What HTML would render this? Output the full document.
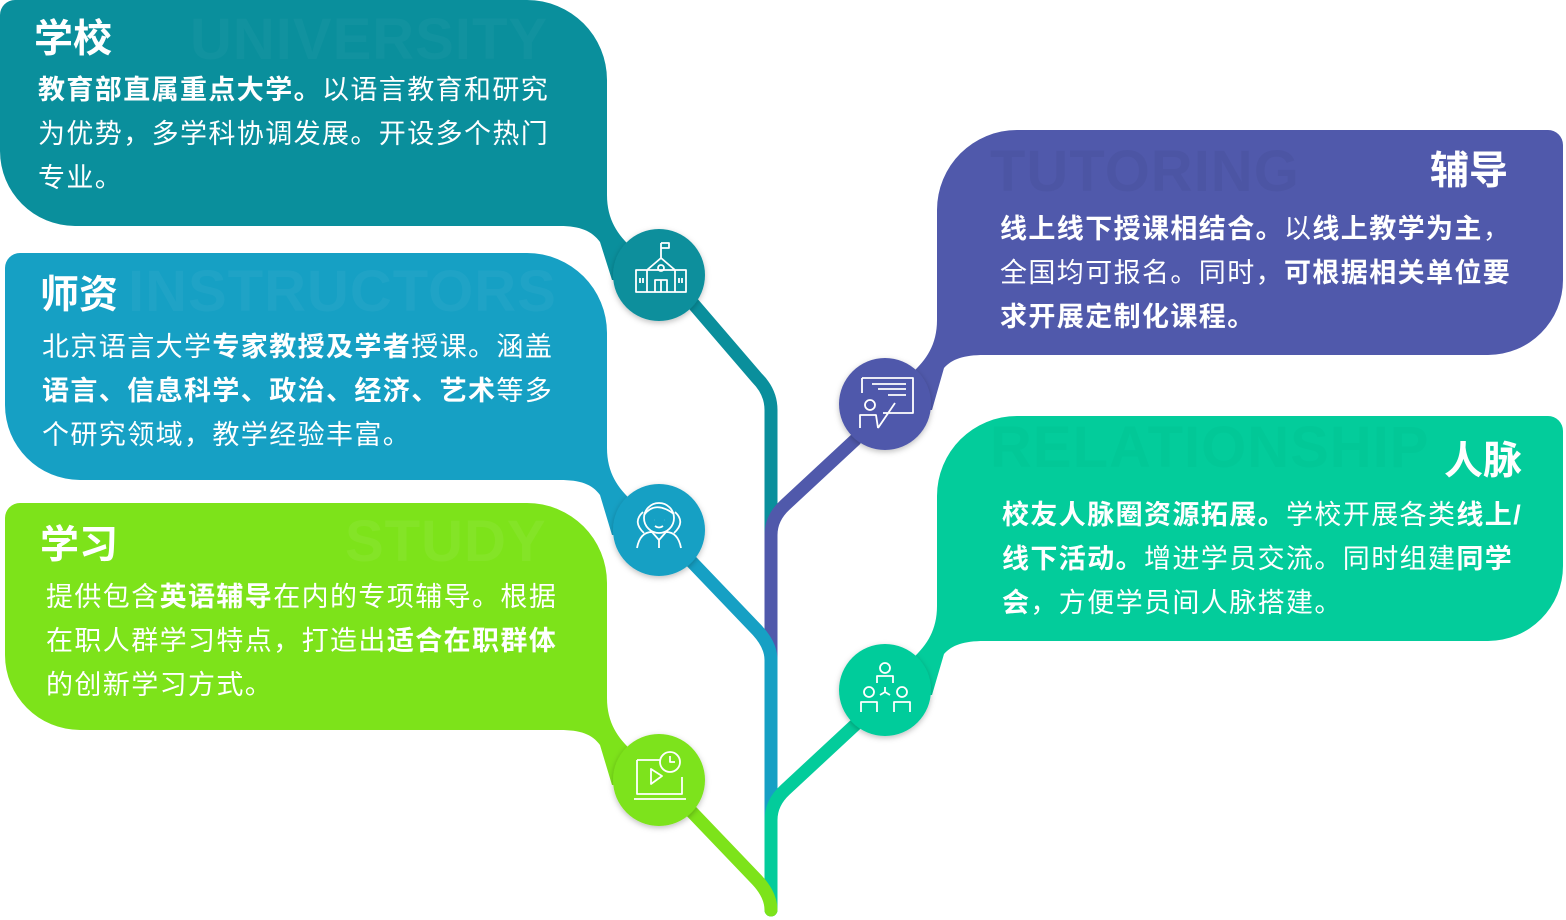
<!DOCTYPE html>
<html><head><meta charset="utf-8"><style>
html,body{margin:0;padding:0;background:#fff;}
body{width:1566px;height:920px;overflow:hidden;position:relative;font-family:"Liberation Sans","Noto Sans CJK SC",sans-serif;}
.t{position:absolute;color:#fff;font-size:27px;line-height:44px;white-space:nowrap;letter-spacing:1.4px;}
.t b{font-weight:700;}
.h{position:absolute;color:#fff;font-size:39px;font-weight:700;line-height:44px;white-space:nowrap;}
.w{position:absolute;font-size:58px;font-weight:700;line-height:60px;white-space:nowrap;font-family:"Liberation Sans",sans-serif;letter-spacing:1px;}
</style></head><body>
<svg width="1566" height="920" style="position:absolute;left:0;top:0">
<defs><filter id="sh" x="-30%" y="-30%" width="160%" height="160%"><feDropShadow dx="0" dy="2" stdDeviation="3" flood-opacity="0.25"/></filter></defs>
<g fill="none" stroke-width="13" stroke-linecap="round" stroke-linejoin="round">
<path d="M690 300 L757 378 Q771 392 771 410 V560" stroke="#0a8f9c"/>
<path d="M855 440 L785 505 Q771 518 771 535 V680" stroke="#5059ab"/>
<path d="M690 560 L757 630 Q771 645 771 660 V830" stroke="#16a0c4"/>
<path d="M855 725 L785 790 Q771 803 771 820 V910" stroke="#03cc9b"/>
<path d="M690 810 L757 880 Q771 895 771 910" stroke="#7de31a"/>
</g>
<g>
<path fill="#0a8f9c" d="M15 0 H527 A80 80 0 0 1 607 80 V195 C607 220 618 235 632 248 L650 280 L612 280 L600 242 C592 231 580 226 560 226 H75 A75 75 0 0 1 0 151 V15 A15 15 0 0 1 15 0 Z"/>
<circle cx="659" cy="275" r="46" fill="#0a8f9c" filter="url(#sh)"/>
<path fill="#16a0c4" d="M20 253 H527 A80 80 0 0 1 607 333 V448 C607 473 618 488 632 501 L650 535 L612 535 L600 495 C592 484 580 480 560 480 H80 A75 75 0 0 1 5 405 V268 A15 15 0 0 1 20 253 Z"/>
<circle cx="659" cy="530" r="46" fill="#16a0c4" filter="url(#sh)"/>
<path fill="#7de31a" d="M20 503 H527 A80 80 0 0 1 607 583 V698 C607 723 618 738 632 751 L650 785 L612 785 L600 745 C592 734 580 730 560 730 H80 A75 75 0 0 1 5 655 V518 A15 15 0 0 1 20 503 Z"/>
<circle cx="659" cy="780" r="46" fill="#7de31a" filter="url(#sh)"/>
<path fill="#5059ab" d="M1548 130 H1017 A80 80 0 0 0 937 210 V320 C937 345 926 360 912 373 L894 410 L932 410 L944 368 C952 359 964 355 984 355 H1488 A75 75 0 0 0 1563 280 V145 A15 15 0 0 0 1548 130 Z"/>
<circle cx="885" cy="404" r="46" fill="#5059ab" filter="url(#sh)"/>
<path fill="#03cc9b" d="M1548 416 H1017 A80 80 0 0 0 937 496 V606 C937 631 926 646 912 659 L894 695 L932 695 L944 654 C952 645 964 641 984 641 H1488 A75 75 0 0 0 1563 566 V431 A15 15 0 0 0 1548 416 Z"/>
<circle cx="885" cy="690" r="46" fill="#03cc9b" filter="url(#sh)"/>
</g>
<g fill="none" stroke="#fff" stroke-width="1.8" stroke-linejoin="round">
<path d="M636 270 H686 V292 H636 Z M647 270 V292 M675 270 V292 M647 270 L661 258 L675 270 M661 258 V243 M661 243 H669 V248 H661 M655 292 V280 H667 V292 M661 280 V292"/>
<circle cx="661" cy="268" r="3"/>
<path d="M640 278 V283 M643 278 V283 M679 278 V283 M682 278 V283"/>
<circle cx="659" cy="518" r="15"/>
<path d="M644 515 Q655 500 674 514 M654 520 h0.1 M664 520 h0.1 M655 526 Q659 529 663 526 M637 548 Q640 532 652 532 M681 548 Q678 532 666 532 M652 532 L659 540 L666 532 M659 540 V548 M643 512 Q632 522 644 533 M675 512 Q686 522 674 533"/>
<path d="M637 760 H660 M637 760 V794 H682 V777 M634 799 H686 M651 769 V784 L662 776 Z"/>
<circle cx="670" cy="762" r="10"/>
<path d="M670 756 V762 H675"/>
<path d="M862 378 H913 V413 H883 M862 378 V393 M872 384 H906 M878 389 H906 M888 395 H906 M860 428 V415 H876 L878 428 M878 428 L895 403"/>
<circle cx="870" cy="405" r="5"/>
<circle cx="885" cy="668" r="5"/><circle cx="869" cy="692" r="5"/><circle cx="902" cy="692" r="5"/>
<path d="M877 683 V676 H893 V683 M861 712 V702 H877 V712 M894 712 V702 H910 V712 M885 687 V692 M885 692 L880 695 M885 692 L890 695"/>
</g>
</svg>
<div class="w" style="left:190px;top:10px;color:rgba(255,255,255,0.03)">UNIVERSITY</div>
<div class="w" style="left:128px;top:262px;color:rgba(255,255,255,0.04)">INSTRUCTORS</div>
<div class="w" style="left:345px;top:512px;color:rgba(255,255,255,0.06)">STUDY</div>
<div class="w" style="left:990px;top:142px;color:rgba(0,0,0,0.04)">TUTORING</div>
<div class="w" style="left:990px;top:418px;color:rgba(0,0,0,0.02)">RELATIONSHIP</div>

<div class="h" style="left:34px;top:18px">学校</div>
<div class="t" style="left:38px;top:68px"><b>教育部直属重点大学。</b>以语言教育和研究<br>为优势，多学科协调发展。开设多个热门<br>专业。</div>

<div class="h" style="left:40px;top:274px">师资</div>
<div class="t" style="left:42px;top:325px">北京语言大学<b>专家教授及学者</b>授课。涵盖<br><b>语言、信息科学、政治、经济、艺术</b>等多<br>个研究领域，教学经验丰富。</div>

<div class="h" style="left:40px;top:524px">学习</div>
<div class="t" style="left:46px;top:575px">提供包含<b>英语辅导</b>在内的专项辅导。根据<br>在职人群学习特点，打造出<b>适合在职群体</b><br>的创新学习方式。</div>

<div class="h" style="left:1430px;top:150px">辅导</div>
<div class="t" style="left:1000px;top:207px"><b>线上线下授课相结合。</b>以<b>线上教学为主</b>，<br>全国均可报名。同时，<b>可根据相关单位要</b><br><b>求开展定制化课程。</b></div>

<div class="h" style="left:1444px;top:440px">人脉</div>
<div class="t" style="left:1002px;top:493px"><b>校友人脉圈资源拓展。</b>学校开展各类<b>线上/</b><br><b>线下活动。</b>增进学员交流。同时组建<b>同学</b><br><b>会</b>，方便学员间人脉搭建。</div>
</body></html>
